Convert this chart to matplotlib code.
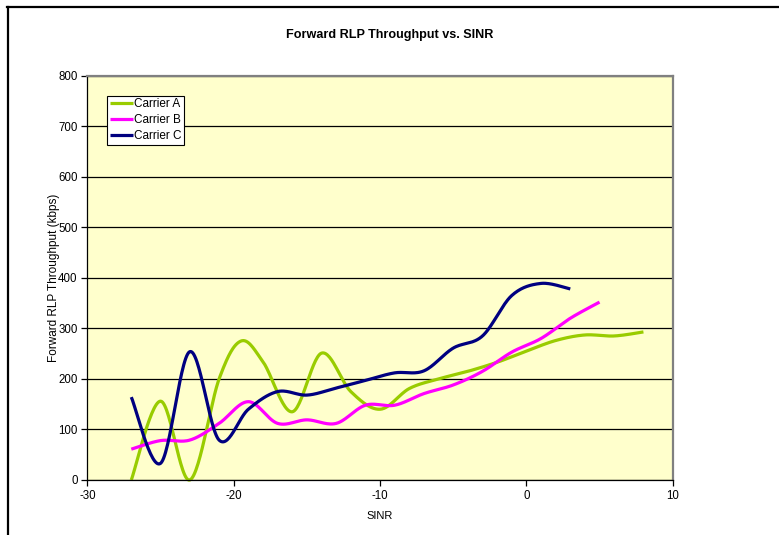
import numpy as np
import matplotlib
matplotlib.use("Agg")
import matplotlib.pyplot as plt
from matplotlib.lines import Line2D

plt.rcParams['font.family'] = ['Liberation Sans', 'DejaVu Sans']
plt.rcParams['axes.unicode_minus'] = False

title = "Forward RLP Throughput vs. SINR"
xlabel = "SINR"
ylabel = "Forward RLP Throughput (kbps)"

a_sinr = [-27, -25, -23, -21, -19.5, -18, -16, -14, -12, -10, -8, -6, -4, -2, 0, 2, 4, 6, 8]
a_tput = [0, 156, 0, 200, 275, 234, 135, 251, 175, 140, 181, 200, 215, 233, 255, 276, 287, 285, 293]

b_sinr = [-27, -25, -23, -21, -19, -17, -15, -13, -11, -9, -7, -5, -3, -1, 1, 3, 5]
b_tput = [61, 78, 79, 112, 155, 112, 119, 112, 148, 148, 171, 188, 215, 253, 280, 320, 352]

c_sinr = [-27, -25, -23, -21, -19, -17, -15, -13, -11, -9, -7, -5, -3, -1, 1, 3]
c_tput = [164, 33, 254, 79, 140, 175, 168, 182, 197, 212, 216, 261, 285, 365, 389, 378]

series = [("Carrier A", a_sinr, a_tput, "#99CC00"),
          ("Carrier B", b_sinr, b_tput, "#FF00FF"),
          ("Carrier C", c_sinr, c_tput, "#000080")]


def smooth(xs, ys, n=30):
    P = np.column_stack([xs, ys]).astype(float)
    m = len(P)
    out = [P[0]]
    t = np.linspace(0, 1, n)[1:]
    for i in range(m - 1):
        p0 = P[i - 1] if i > 0 else P[i]
        p1 = P[i]
        p2 = P[i + 1]
        p3 = P[i + 2] if i + 2 < m else P[i + 1]
        c1 = p1 + (p2 - p0) / 6.0
        c2 = p2 - (p3 - p1) / 6.0
        tt = t[:, None]
        seg = ((1 - tt) ** 3) * p1 + 3 * ((1 - tt) ** 2) * tt * c1 + 3 * (1 - tt) * tt ** 2 * c2 + tt ** 3 * p2
        out.extend(seg)
    out = np.array(out)
    return out[:, 0], out[:, 1]


fig = plt.figure(figsize=(7.79, 5.35), dpi=100)
ax = fig.add_axes([87.4 / 779, 1 - 480 / 535, (672.7 - 87.4) / 779, (480 - 75.7) / 535])
ax.set_facecolor("#FFFFCC")

for name, xs, ys, col in series:
    sx, sy = smooth(xs, ys)
    ax.plot(sx, sy, color=col, lw=2.3, label=name, solid_capstyle='butt', clip_on=False)

ax.set_xlim(-30, 10)
ax.set_ylim(0, 800)
ax.set_xticks(range(-30, 11, 10))
ax.set_yticks(range(0, 801, 100))
ax.yaxis.grid(True, color='black', lw=0.9)
ax.set_axisbelow(True)
ax.tick_params(axis='both', labelsize=8.3, direction='out', length=4, width=0.9, color='black', pad=3)
for s in ['left', 'bottom']:
    ax.spines[s].set_color('black')
    ax.spines[s].set_linewidth(0.9)
for s in ['top', 'right']:
    ax.spines[s].set_color('#808080')
    ax.spines[s].set_linewidth(1.6)

ax.set_xlabel(xlabel, fontsize=8.0, labelpad=7)
ax.set_ylabel(ylabel, fontsize=8.5, labelpad=-1)
fig.text(390 / 779, 1 - 35 / 535, title, ha='center', va='center', fontsize=9.1, fontweight='bold')

leg = ax.legend(loc='upper left', bbox_to_anchor=((107.3 - 87.4) / 585.3, (480 - 95.7) / 404.3),
                fontsize=8.5, frameon=True, fancybox=False, edgecolor='black', framealpha=1,
                borderpad=0.2, handlelength=2.0, handletextpad=0.1, labelspacing=0.35,
                borderaxespad=0)
leg.get_frame().set_linewidth(0.8)

fig.add_artist(Line2D([7 / 779, 1], [1 - 6.5 / 535, 1 - 6.5 / 535], color='black', lw=1.6, transform=fig.transFigure))
fig.add_artist(Line2D([7.5 / 779, 7.5 / 779], [0, 1 - 6.5 / 535], color='black', lw=1.6, transform=fig.transFigure))

fig.savefig("out.png", dpi=100)
